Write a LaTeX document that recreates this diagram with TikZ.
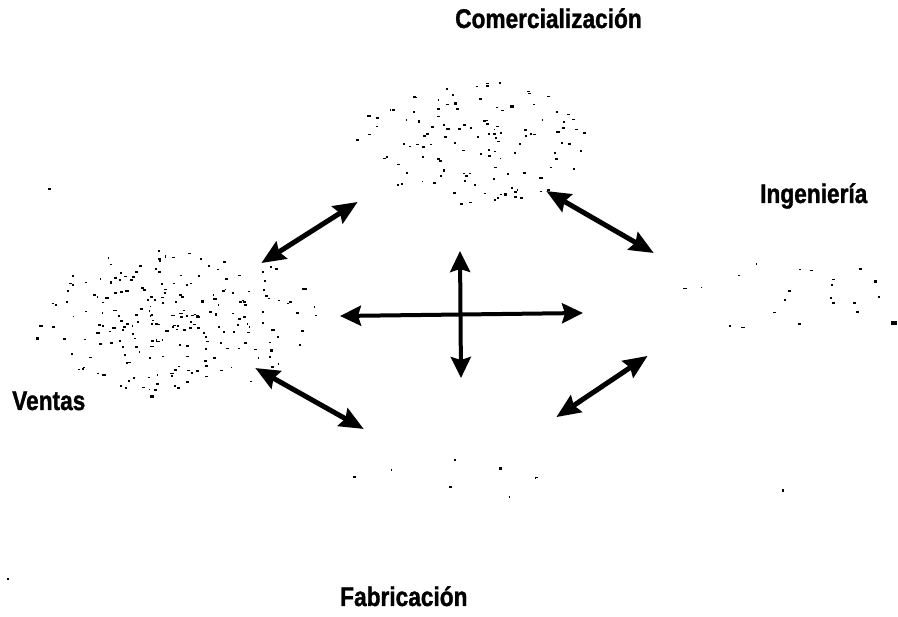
\documentclass[tikz,border=0pt]{standalone}
\usepackage{fontspec}
\newfontfamily\deptfont{Liberation Sans}[FakeStretch=0.84, BoldFeatures={FakeBold=1.2}]
\usepackage{tikz}
\usetikzlibrary{arrows.meta}
\tikzset{
  dept/.style={font=\deptfont\bfseries\fontsize{27}{30}\selectfont, inner sep=0pt, anchor=base west},
  link/.style={{Stealth[length=24pt,width=20pt,inset=3pt]}-{Stealth[length=24pt,width=20pt,inset=3pt]},
    line width=5pt, shorten <=-2pt, shorten >=-2pt},
  crossarrow/.style={{Stealth[length=21pt,width=20pt,inset=3pt]}-{Stealth[length=21pt,width=20pt,inset=3pt]},
    line width=4pt},
  speck/.style={fill=black},
}
% #1 centre, #2 x radius, #3 y radius, #4 count, #5 spread
\newcommand{\cloudspecks}[5]{%
  \foreach \k in {1,...,#4}{
    \pgfmathsetmacro\ang{360*rnd}
    \pgfmathsetmacro\rr{(0.02+0.98*rnd)^#5}
    \pgfmathsetmacro\sw{1.3+2.2*rnd}
    \pgfmathsetmacro\sh{1.2+1.1*rnd}
    \fill[speck] (#1) ++({#2*\rr*cos(\ang)},{#3*\rr*sin(\ang)}) rectangle ++(\sw,\sh);
  }}

\begin{document}
\begin{tikzpicture}[x=1pt, y=-1pt]
  \useasboundingbox (0,0) rectangle (898,617);
  \pgfmathsetseed{271}

  \node[dept] (com) at (455,28) {Comercialización};
  \node[dept] (ing) at (760,203) {Ingeniería};
  \node[dept] (ven) at (12,410) {Ventas};
  \node[dept] (fab) at (340,606) {Fabricación};

  \coordinate (comCloud) at (472,142);
  \coordinate (venCloud) at (175,320);
  \coordinate (ingCloud) at (772,292);
  \coordinate (fabCloud) at (465,474);

  \cloudspecks{comCloud}{118}{62}{125}{0.6}
  \cloudspecks{venCloud}{145}{72}{230}{0.75}
  \cloudspecks{ingCloud}{108}{42}{22}{0.6}
  \cloudspecks{fabCloud}{130}{24}{8}{0.6}
  \foreach \p/\w/\h in {{(48,188)}/2.5/2, {(891,321)}/6/4, {(150,395)}/4/3, {(7,578)}/2/2, {(782,489)}/2/3}
    \fill[speck] \p rectangle ++(\w,\h);

  \coordinate (crossW) at (340,316);
  \coordinate (crossE) at (583,313);
  \coordinate (crossN) at (460,251);
  \coordinate (crossS) at (461,378);
  \draw[crossarrow] (crossW) -- (crossE);
  \draw[crossarrow] (crossN) -- (crossS);

  \coordinate (comVen) at (356,203);
  \coordinate (venCom) at (263,262);
  \coordinate (comIng) at (548,192);
  \coordinate (ingCom) at (652,252);
  \coordinate (venFab) at (257,369);
  \coordinate (fabVen) at (362,428);
  \coordinate (ingFab) at (646,357);
  \coordinate (fabIng) at (558,416);
  \draw[link] (comVen) -- (venCom);
  \draw[link] (comIng) -- (ingCom);
  \draw[link] (venFab) -- (fabVen);
  \draw[link] (ingFab) -- (fabIng);
\end{tikzpicture}
\end{document}
